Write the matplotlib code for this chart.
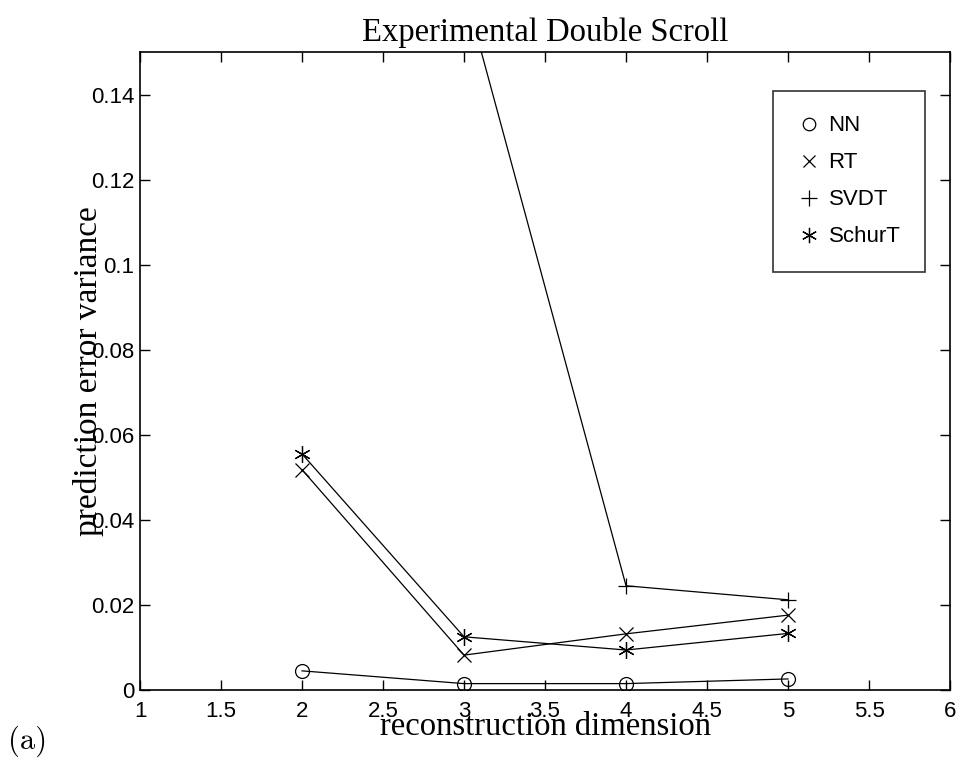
import matplotlib
matplotlib.use("Agg")
import matplotlib.pyplot as plt
from matplotlib.lines import Line2D

# reconstruction dimensions and prediction error variances per method
dims = [2, 3, 4, 5]
nn = [0.0045, 0.0015, 0.0015, 0.0026]
rt = [0.0518, 0.0082, 0.0132, 0.0176]
svdt_dims = [3, 4, 5]
svdt = [0.165, 0.0245, 0.0212]
schurt = [0.0555, 0.0125, 0.0094, 0.0133]

labels = ["NN", "RT", "SVDT", "SchurT"]
xticks = [1, 1.5, 2, 2.5, 3, 3.5, 4, 4.5, 5, 5.5, 6]
yticks = [0, 0.02, 0.04, 0.06, 0.08, 0.1, 0.12, 0.14]

sans = "Liberation Sans"
serif = "Liberation Serif"

fig = plt.figure(figsize=(9.61, 7.62), dpi=100)
ax = fig.add_axes([0.1457, 0.0945, 0.8429, 0.8373])

lw = 0.9
star = (6, 2, 0)
ax.plot(dims, nn, color="black", lw=lw, marker="o", mfc="none", ms=10, mew=0.9)
ax.plot(dims, rt, color="black", lw=lw, marker="x", ms=10, mew=0.9)
ax.plot(svdt_dims, svdt, color="black", lw=lw, marker="+", ms=12, mew=0.9)
ax.plot(dims, schurt, color="black", lw=lw, marker=star, ms=12, mew=0.9)

ax.set_xlim(1, 6)
ax.set_ylim(0, 0.15)
ax.set_xticks(xticks)
ax.set_xticklabels([f"{t:g}" for t in xticks], fontfamily=sans, fontsize=16)
ax.set_yticks(yticks)
ax.set_yticklabels([f"{t:g}" for t in yticks], fontfamily=sans, fontsize=16)
ax.tick_params(direction="in", length=7, width=1, top=True, right=True)
ax.tick_params(axis="x", pad=8)
ax.tick_params(axis="y", pad=4)
for s in ax.spines.values():
    s.set_linewidth(1.2)

ax.set_title("Experimental Double Scroll", fontfamily=serif, fontsize=23.5, pad=8)
ax.set_xlabel("reconstruction dimension", fontfamily=serif, fontsize=23.5)
ax.xaxis.set_label_coords(0.5, -0.057)
ax.xaxis.label.set_va("center")
ax.set_ylabel("prediction error variance", fontfamily=serif, fontsize=24)
ax.yaxis.set_label_coords(-0.064, 0.5)
ax.yaxis.label.set_va("center")

handles = [
    Line2D([], [], ls="none", color="black", marker="o", mfc="none", ms=9, mew=0.9),
    Line2D([], [], ls="none", color="black", marker="x", ms=9, mew=0.9),
    Line2D([], [], ls="none", color="black", marker="+", ms=11, mew=0.9),
    Line2D([], [], ls="none", color="black", marker=star, ms=11, mew=0.9),
]
leg = ax.legend(handles, labels, loc="upper right",
                bbox_to_anchor=(0.969, 0.939), prop={"family": sans, "size": 16},
                frameon=True, fancybox=False, edgecolor="black",
                borderpad=1.1, labelspacing=0.72, handletextpad=0.4,
                handlelength=1.0, borderaxespad=0)
leg.get_frame().set_linewidth(1.2)

fig.text(0.008, 0.017, "(a)", fontfamily="cmr10", fontsize=22, ha="left", va="baseline")

fig.savefig("out.png", dpi=100)
